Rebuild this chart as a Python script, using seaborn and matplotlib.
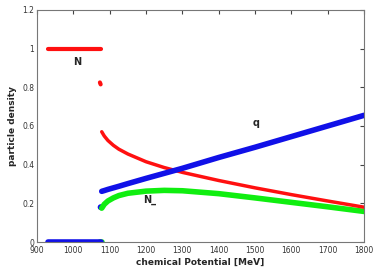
import numpy as np
import pandas as pd
import seaborn as sns
import matplotlib
matplotlib.use('Agg')
import matplotlib.pyplot as plt

# vacuum branch (mu below the transition)
mu_low = [930, 1075]
n_low = [1.0, 1.0]
q_low = [0.0, 0.0]
g_low = [1072, 1080]
g_low_val = [0.0, 0.0]

# isolated points at the jump
n_jump_mu, n_jump_val = [1073, 1075], [0.825, 0.815]
q_jump_mu, q_jump_val = [1075], [0.18]

# dense branch
mu = [1078, 1085, 1095, 1110, 1125, 1150, 1200, 1250, 1300, 1400, 1500, 1600, 1700, 1800]
n_dense = [0.57, 0.548, 0.525, 0.5, 0.48, 0.455, 0.415, 0.385, 0.36, 0.318, 0.28, 0.245, 0.212, 0.18]
q_dense = [0.262, 0.266, 0.272, 0.28, 0.288, 0.302, 0.329, 0.355, 0.381, 0.437, 0.49, 0.545, 0.60, 0.655]
nm_dense = [0.175, 0.195, 0.212, 0.228, 0.24, 0.252, 0.263, 0.267, 0.265, 0.25, 0.228, 0.205, 0.182, 0.158]

sns.set_style('white')
plt.rcParams['font.family'] = ['DejaVu Sans']

fig, ax = plt.subplots(figsize=(3.82, 2.68), dpi=100)
fig.subplots_adjust(left=0.097, right=0.953, top=0.963, bottom=0.097)

red, blue, green = '#ff1010', '#1010e8', '#10ee10'

sns.lineplot(x=mu_low, y=n_low, color=red, linewidth=3, ax=ax)
sns.lineplot(x=g_low, y=g_low_val, color=green, linewidth=4, ax=ax)
sns.lineplot(x=mu_low, y=q_low, color=blue, linewidth=4, ax=ax)
sns.lineplot(x=n_jump_mu, y=n_jump_val, color=red, linewidth=3, ax=ax)
sns.lineplot(x=mu, y=nm_dense, color=green, linewidth=4, ax=ax)
sns.lineplot(x=mu, y=n_dense, color=red, linewidth=2.5, ax=ax)
sns.lineplot(x=mu, y=q_dense, color=blue, linewidth=4, ax=ax)
sns.scatterplot(x=q_jump_mu, y=q_jump_val, color=blue, s=18, edgecolor='none', ax=ax)

ax.text(1010, 0.93, 'N', fontsize=7, fontweight='bold', ha='center', va='center')
ax.text(1503, 0.615, 'q', fontsize=7, fontweight='bold', ha='center', va='center')
ax.text(1211, 0.22, 'N_', fontsize=7, fontweight='bold', ha='center', va='center')

ax.set_xlim(900, 1800)
ax.set_ylim(0, 1.2)
ax.set_xticks(range(900, 1801, 100))
ax.set_yticks([0, 0.2, 0.4, 0.6, 0.8, 1.0, 1.2])
ax.set_yticklabels(['0', '0.2', '0.4', '0.6', '0.8', '1', '1.2'])
ax.tick_params(direction='in', length=3, labelsize=5.5, colors='#444444',
               top=True, right=True, labelcolor='#333333', pad=2)
ax.tick_params(axis='x', pad=3)
for s in ax.spines.values():
    s.set_color('#777777')
    s.set_linewidth(0.8)

ax.set_xlabel('chemical Potential [MeV]', fontsize=6.5, fontweight='bold', labelpad=2)
ax.set_ylabel('particle density', fontsize=6.5, fontweight='bold', labelpad=4)

fig.savefig('out.png', dpi=100)
